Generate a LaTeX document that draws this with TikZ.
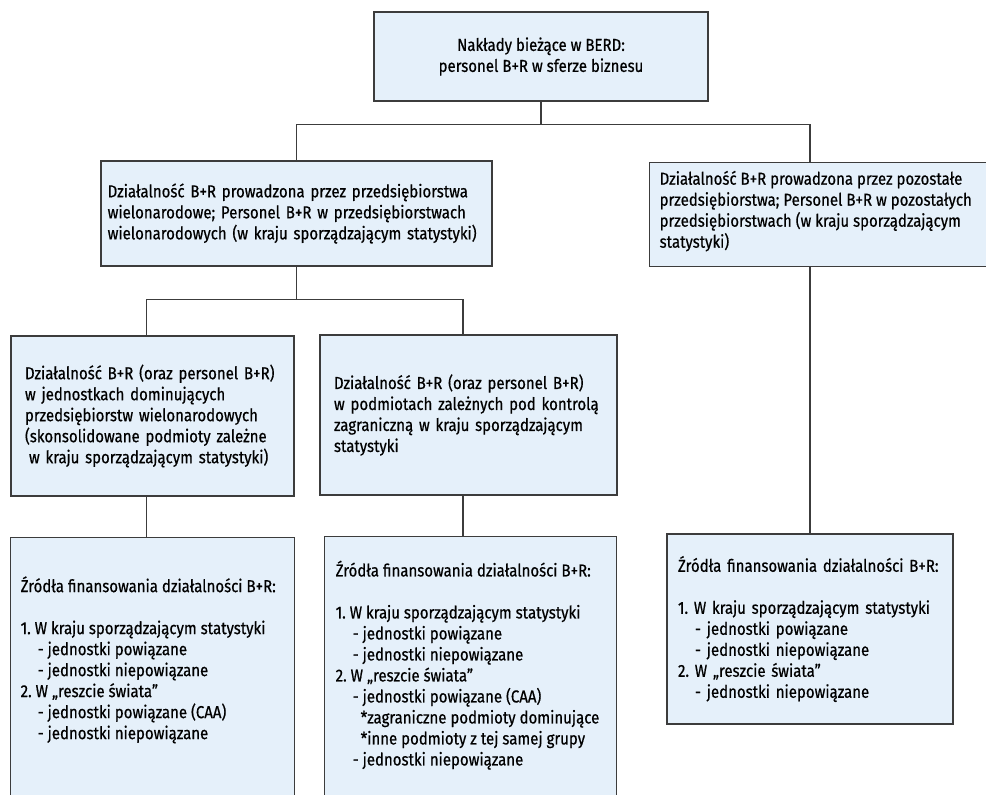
\documentclass[tikz,border=0pt]{standalone}
\usepackage{fontspec}
\setmainfont{Fira Sans}[FakeStretch=0.865, FakeBold=0.6]
\definecolor{boxfill}{RGB}{229,240,250}
\definecolor{edge}{RGB}{60,60,60}
\tikzset{
  box/.style={draw=edge, fill=boxfill, line width=1pt, rectangle, inner ysep=0pt,
    font=\fontsize{13}{15.75}\selectfont\frenchspacing},
  conn/.style={draw=edge, line width=1pt},
}
\newcommand{\ind}{\hspace*{12.75pt}}
\newcommand{\indd}{\hspace*{18.75pt}}
\begin{document}
\begin{tikzpicture}[x=0.75pt,y=-0.75pt]
\useasboundingbox (0,0) rectangle (986,794);
\clip (0,0) rectangle (986,794);

\node[box, minimum width=250.5pt, minimum height=66.75pt, align=center] (top) at (541,56.5)
  {Nakłady bieżące w BERD:\\personel B+R w sferze biznesu};

\node[box, minimum width=293.25pt, minimum height=78.75pt, inner xsep=5pt, text width=283.25pt, align=left] (midL) at (296.5,213.5)
  {\mbox{Działalność B+R prowadzona przez przedsiębiorstwa}\\\mbox{wielonarodowe; Personel B+R w przedsiębiorstwach}\\\mbox{wielonarodowych (w kraju sporządzającym statystyki)}};

\node[box, anchor=north west, inner xsep=7.5pt] (midR) at (649,162)
  {\parbox[c][78pt][t]{255.75pt}{\raggedright\vspace*{5.5pt}\strut Działalność B+R prowadzona przez pozostałe\\\mbox{przedsiębiorstwa; Personel B+R w pozostałych}\\\mbox{przedsiębiorstwach (w kraju sporządzającym}\\statystyki)}};

\node[box, minimum width=212.25pt, minimum height=120pt, inner xsep=10.5pt, text width=191.25pt, align=left] (lowL) at (152.5,416)
  {\mbox{Działalność B+R (oraz personel B+R)}\\\mbox{w jednostkach dominujących}\\\mbox{przedsiębiorstw wielonarodowych}\\\mbox{(skonsolidowane podmioty zależne}\\\mbox{\hspace*{3pt}w kraju sporządzającym statystyki)}};

\node[box, minimum width=222.75pt, minimum height=120pt, inner xsep=10.5pt, text width=201.75pt, align=left] (lowM) at (468.5,415)
  {\mbox{Działalność B+R (oraz personel B+R)}\\\mbox{w podmiotach zależnych pod kontrolą}\\\mbox{zagraniczną w kraju sporządzającym}\\statystyki};

\node[box, anchor=north west, inner xsep=7.5pt] (botL) at (10,537)
  {\parbox[c][212.25pt][t]{198pt}{\raggedright\vspace*{29pt}\strut Źródła finansowania działalności B+R:\\[15.75pt]
  1. W kraju sporządzającym statystyki\\
  \ind- jednostki powiązane\\
  \ind- jednostki niepowiązane\\
  2. W „reszcie świata”\\
  \ind- jednostki powiązane (CAA)\\
  \ind- jednostki niepowiązane}};

\node[box, anchor=north west, inner xsep=8.25pt] (botM) at (324,536)
  {\parbox[c][212.25pt][t]{202.5pt}{\raggedright\vspace*{18pt}\strut Źródła finansowania działalności B+R:\\[15.75pt]
  1. W kraju sporządzającym statystyki\\
  \ind- jednostki powiązane\\
  \ind- jednostki niepowiązane\\
  2. W „reszcie świata”\\
  \ind- jednostki powiązane (CAA)\\
  \indd*zagraniczne podmioty dominujące\\
  \indd*inne podmioty z tej samej grupy\\
  \ind- jednostki niepowiązane}};

\node[box, minimum width=214.5pt, minimum height=142.5pt, inner xsep=8.25pt, text width=198pt, align=left] (botR) at (810,629)
  {Źródła finansowania działalności B+R:\\[15.75pt]
  1. W kraju sporządzającym statystyki\\
  \ind- jednostki powiązane\\
  \ind- jednostki niepowiązane\\
  2. W „reszcie świata”\\
  \ind- jednostki niepowiązane};

% connectors
\draw[conn] (top.south) -- ++(0,23) coordinate (h1);
\draw[conn] (midL.north) |- (h1) -| (midR.north -| botR.north);
\draw[conn] (midR.south -| botR.north) -- (botR.north);
\draw[conn] (midL.south) -- ++(0,33) coordinate (h2);
\coordinate (cL) at ([xshift=-4.5pt]lowL.north);
\coordinate (cM) at ([xshift=-4.1pt]lowM.north);
\draw[conn] (cL) |- (h2) -| (cM);
\coordinate (dL) at ([xshift=-4.5pt]lowL.south);
\coordinate (dM) at ([xshift=-4.1pt]lowM.south);
\draw[conn] (dL) -- (dL |- botL.north);
\draw[conn] (dM) -- (dM |- botM.north);
\end{tikzpicture}
\end{document}
